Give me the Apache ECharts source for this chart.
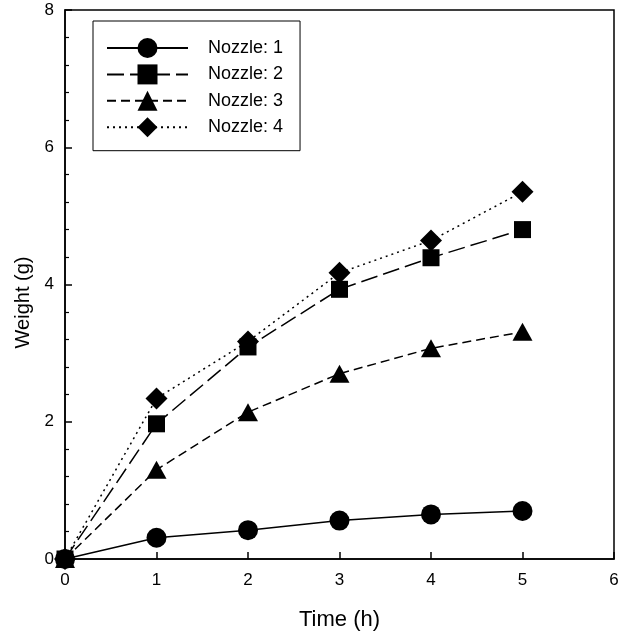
<!DOCTYPE html>
<html>
<head>
<meta charset="utf-8">
<script src="https://cdn.jsdelivr.net/npm/echarts@6/dist/echarts.min.js"></script>
<style>
html,body{margin:0;padding:0;background:#fff;}
#chart{width:631px;height:636px;}
</style>
</head>
<body>
<div id="chart"></div>
<script>
var timeH = [0, 1, 2, 3, 4, 5];
var nozzle1 = [0, 0.31, 0.42, 0.56, 0.65, 0.70];
var nozzle2 = [0, 1.97, 3.09, 3.93, 4.39, 4.80];
var nozzle3 = [0, 1.30, 2.14, 2.70, 3.07, 3.31];
var nozzle4 = [0, 2.34, 3.17, 4.17, 4.64, 5.35];
var seriesNames = ['Nozzle: 1', 'Nozzle: 2', 'Nozzle: 3', 'Nozzle: 4'];
var xTicks = [0, 1, 2, 3, 4, 5, 6];
var yTicks = [0, 2, 4, 6, 8];

function pairs(vals) {
  return timeH.map(function (t, i) { return [t, vals[i]]; });
}

var FONT = 'Liberation Sans, Arial, sans-serif';
var chart = echarts.init(document.getElementById('chart'), null, {renderer: 'canvas'});

var styles = [
  {symbol: 'circle', size: 20, dash: 'solid'},
  {symbol: 'rect', size: 17, dash: [17, 6]},
  {symbol: 'triangle', size: [20, 18], dash: [9, 5]},
  {symbol: 'diamond', size: 22, dash: [2, 4]}
];
var allData = [nozzle1, nozzle2, nozzle3, nozzle4];

var series = allData.map(function (vals, i) {
  return {
    name: seriesNames[i],
    type: 'line',
    data: pairs(vals),
    symbol: styles[i].symbol,
    symbolSize: styles[i].size,
    showAllSymbol: true,
    animation: false,
    itemStyle: {color: '#000', borderWidth: 0},
    lineStyle: {color: '#000', width: 1.5, type: styles[i].dash},
    emphasis: {disabled: true}
  };
});

chart.setOption({
  backgroundColor: '#fff',
  animation: false,
  grid: {
    left: 65, top: 10, width: 549, height: 549,
    show: true, borderColor: '#000', borderWidth: 1.5, backgroundColor: 'transparent'
  },
  legend: {
    orient: 'vertical',
    left: 93, top: 21,
    padding: [17, 17, 13.5, 13],
    itemWidth: 81, itemHeight: 25, itemGap: 6.4,
    borderColor: '#000', borderWidth: 1,
    backgroundColor: '#fff',
    textStyle: {fontFamily: FONT, fontSize: 18, color: '#000', padding: [0, 0, 0, 15]},
    data: seriesNames
  },
  xAxis: {
    type: 'value', min: xTicks[0], max: xTicks[xTicks.length - 1], interval: 1,
    name: 'Time (h)', nameLocation: 'middle', nameGap: 50,
    nameTextStyle: {fontFamily: FONT, fontSize: 22, color: '#000'},
    axisLine: {lineStyle: {color: '#000', width: 1.5}},
    axisTick: {inside: true, length: 7, lineStyle: {color: '#000', width: 1.5}},
    axisLabel: {fontFamily: FONT, fontSize: 17, color: '#000', margin: 13},
    splitLine: {show: false}
  },
  yAxis: {
    type: 'value', min: yTicks[0], max: yTicks[yTicks.length - 1], interval: 2,
    name: 'Weight (g)', nameLocation: 'middle', nameGap: 28,
    nameTextStyle: {fontFamily: FONT, fontSize: 20, color: '#000', padding: [0, 36, 0, 0]},
    axisLine: {lineStyle: {color: '#000', width: 1.5}},
    axisTick: {inside: true, length: 7, lineStyle: {color: '#000', width: 1.5}},
    minorTick: {show: true, splitNumber: 5, length: 4, lineStyle: {color: '#000', width: 1.2}},
    axisLabel: {fontFamily: FONT, fontSize: 17, color: '#000', margin: 11},
    splitLine: {show: false}
  },
  series: series
});
</script>
</body>
</html>
